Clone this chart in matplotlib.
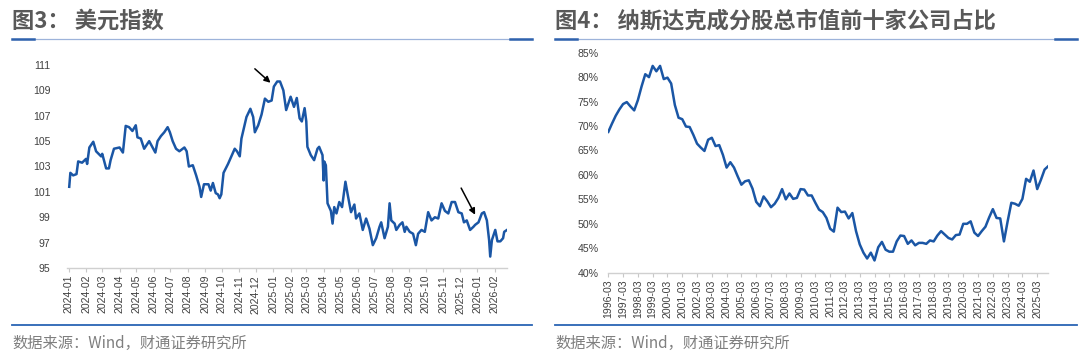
import matplotlib
matplotlib.use('Agg')
from matplotlib import pyplot as plt
from matplotlib.lines import Line2D
import pandas as pd
import numpy as np

plt.rcParams['font.family'] = ['Liberation Sans', 'Noto Sans CJK SC', 'DejaVu Sans']

# 图3 美元指数 (daily)
dxy_dates = [
    '2024-01-02', '2024-01-04', '2024-01-09', '2024-01-15', '2024-01-18', '2024-01-25',
    '2024-02-01', '2024-02-03', '2024-02-07', '2024-02-14', '2024-02-19', '2024-02-28',
    '2024-03-01', '2024-03-08', '2024-03-13', '2024-03-16', '2024-03-22', '2024-04-01',
    '2024-04-07', '2024-04-12', '2024-04-18', '2024-04-24', '2024-04-30', '2024-05-03',
    '2024-05-09', '2024-05-15', '2024-05-24', '2024-05-30', '2024-06-04', '2024-06-08',
    '2024-06-14', '2024-06-20', '2024-06-26', '2024-06-30', '2024-07-05', '2024-07-11',
    '2024-07-17', '2024-07-26', '2024-07-30', '2024-08-03', '2024-08-10', '2024-08-16',
    '2024-08-22', '2024-08-25', '2024-08-30', '2024-09-07', '2024-09-11', '2024-09-15',
    '2024-09-20', '2024-09-24', '2024-09-27', '2024-09-30', '2024-10-04', '2024-10-12',
    '2024-10-18', '2024-10-24', '2024-10-28', '2024-11-02', '2024-11-05', '2024-11-14',
    '2024-11-21', '2024-11-26', '2024-11-29', '2024-12-05', '2024-12-11', '2024-12-17',
    '2024-12-23', '2024-12-29', '2025-01-02', '2025-01-08', '2025-01-13', '2025-01-19',
    '2025-01-24', '2025-02-01', '2025-02-07', '2025-02-12', '2025-02-17', '2025-02-21',
    '2025-02-26', '2025-03-01', '2025-03-03', '2025-03-09', '2025-03-15', '2025-03-21',
    '2025-03-24', '2025-03-30', '2025-04-01', '2025-04-02', '2025-04-05', '2025-04-08',
    '2025-04-11', '2025-04-14', '2025-04-17', '2025-04-20', '2025-04-24', '2025-04-29',
    '2025-05-04', '2025-05-10', '2025-05-14', '2025-05-20', '2025-05-26', '2025-05-29',
    '2025-06-04', '2025-06-10', '2025-06-16', '2025-06-22', '2025-06-28', '2025-07-04',
    '2025-07-10', '2025-07-13', '2025-07-19', '2025-07-25', '2025-07-28', '2025-07-31',
    '2025-08-06', '2025-08-09', '2025-08-15', '2025-08-20', '2025-08-24', '2025-08-27',
    '2025-09-02', '2025-09-08', '2025-09-13', '2025-09-17', '2025-09-23', '2025-09-29',
    '2025-10-05', '2025-10-11', '2025-10-17', '2025-10-23', '2025-10-29', '2025-11-04',
    '2025-11-10', '2025-11-16', '2025-11-22', '2025-11-28', '2025-12-04', '2025-12-08',
    '2025-12-13', '2025-12-19', '2025-12-25', '2025-12-28', '2026-01-03', '2026-01-09',
    '2026-01-13', '2026-01-18', '2026-01-22', '2026-01-24', '2026-01-27', '2026-02-02',
    '2026-02-06', '2026-02-11', '2026-02-16', '2026-02-18', '2026-02-23',
]
dxy_values = [
    101.4, 102.5, 102.3, 102.4, 103.4, 103.3,
    103.6, 103.2, 104.5, 104.95, 104.2, 103.8,
    104.0, 102.85, 102.85, 103.5, 104.4, 104.5,
    104.1, 106.2, 106.1, 105.8, 106.25, 105.3,
    105.2, 104.4, 105.0, 104.5, 104.1, 105.0,
    105.4, 105.7, 106.1, 105.7, 105.0, 104.4,
    104.2, 104.5, 104.2, 103.0, 103.1, 102.3,
    101.4, 100.6, 101.6, 101.6, 101.1, 101.7,
    100.9, 100.8, 100.5, 100.8, 102.5, 103.2,
    103.8, 104.4, 104.2, 103.8, 105.2, 106.9,
    107.55, 106.9, 105.7, 106.25, 107.1, 108.35,
    108.1, 108.2, 109.3, 109.7, 109.7, 109.0,
    107.45, 108.5, 107.7, 108.4, 106.8, 106.55,
    107.6, 106.55, 104.55, 103.9, 103.5, 104.4,
    104.55, 103.9, 101.9, 103.4, 103.1, 100.1,
    99.8, 99.5, 98.5, 99.8, 99.3, 100.2,
    99.8, 101.8, 100.8, 99.4, 100.0, 98.9,
    99.3, 98.0, 98.9, 98.1, 96.8, 97.35,
    98.25, 98.6, 97.35, 98.25, 100.1, 98.75,
    98.5, 98.0, 98.4, 98.6, 97.85, 98.25,
    97.85, 97.7, 96.8, 97.7, 98.0, 97.85,
    99.4, 98.75, 99.0, 98.9, 100.1, 99.5,
    99.3, 100.2, 100.2, 99.4, 99.3, 98.6,
    98.75, 98.0, 98.25, 98.4, 98.6, 99.3,
    99.4, 98.75, 97.2, 95.9, 97.2, 98.0,
    97.1, 97.1, 97.35, 97.85, 98.0,
]
dxy_ticks = pd.date_range('2024-01-01', '2026-02-01', freq='MS')
arrows_dxy = [(('2024-11-29', 110.7), ('2024-12-27', 109.6)),
              (('2025-12-03', 101.3), ('2025-12-28', 99.2))]

# 图4 纳斯达克成分股总市值前十家公司占比 (quarterly, %)
nq_quarters = [f'{y}-{m:02d}' for y in range(1996, 2026) for m in (3, 6, 9, 12)]
nq_share = [
    68.8, 70.5, 72.1, 73.4, 74.5, 74.9, 74.0, 73.2, 75.3, 78.1,
    80.6, 80.0, 82.3, 81.2, 82.3, 79.6, 79.9, 78.7, 74.3, 71.7,
    71.4, 69.9, 69.8, 68.2, 66.4, 65.6, 64.9, 67.2, 67.6, 65.9,
    66.1, 64.1, 61.5, 62.6, 61.5, 59.7, 58.0, 58.7, 58.9, 57.2,
    54.5, 53.6, 55.6, 54.6, 53.4, 54.1, 55.3, 57.1, 55.0, 56.2,
    55.1, 55.3, 57.1, 57.0, 55.8, 55.8, 54.3, 52.9, 52.4, 51.2,
    49.0, 48.4, 53.3, 52.4, 52.5, 51.1, 52.2, 48.5, 45.8, 44.1,
    42.9, 44.1, 42.5, 45.2, 46.3, 44.7, 44.3, 44.3, 46.4, 47.6,
    47.5, 45.9, 46.6, 45.6, 46.1, 46.1, 45.9, 46.6, 46.4, 47.6,
    48.5, 47.8, 47.1, 46.8, 47.7, 47.8, 50.0, 50.0, 50.5, 48.2,
    47.5, 48.5, 49.4, 51.3, 53.0, 51.2, 51.1, 46.4, 50.5, 54.3,
    54.1, 53.7, 55.1, 59.2, 58.6, 60.9, 57.1, 59.0, 61.1, 61.8,
]

LINE_BLUE = '#1a56a5'
TXT = '#404040'
W, H = 1080, 352


def style_axis(ax):
    for s in ['top', 'right', 'left']:
        ax.spines[s].set_visible(False)
    ax.spines['bottom'].set_color('#d0d0d0')
    ax.spines['bottom'].set_linewidth(1.0)
    ax.tick_params(axis='x', direction='out', length=3, width=0.8, color='#c8c8c8',
                   labelcolor=TXT, labelsize=7.6, rotation=90, pad=2)
    ax.tick_params(axis='y', length=0, labelcolor=TXT, labelsize=7.6)


def panel_frame(fig, x0, x1, title):
    # title, underline with dark ends, bottom rule, source note
    fig.text(x0 / W, 1 - 21 / H, title, fontsize=16, color='#595959', weight='bold',
             family=['Noto Sans CJK SC', 'DejaVu Sans'], ha='left', va='center')
    yt = 1 - 38.7 / H
    fig.add_artist(Line2D([x0 / W, x1 / W], [yt, yt], color='#9db3da', lw=0.9))
    fig.add_artist(Line2D([x0 / W, (x0 + 22) / W], [yt, yt], color='#2f62ad', lw=1.8))
    fig.add_artist(Line2D([(x1 - 22) / W, x1 / W], [yt, yt], color='#2f62ad', lw=1.8))
    yb = 1 - 324.7 / H
    fig.add_artist(Line2D([x0 / W, x1 / W], [yb, yb], color='#2a64b4', lw=1.3))
    fig.text(x0 / W, 1 - 343.5 / H, '数据来源：Wind，财通证券研究所', fontsize=11,
             color='#7f7f7f', family=['Noto Sans CJK SC', 'DejaVu Sans'],
             ha='left', va='center')


fig = plt.figure(figsize=(W / 100, H / 100), dpi=100)

# left panel
ax1 = fig.add_axes([67 / W, (H - 268) / H, 440 / W, 203 / H])
d = pd.to_datetime(dxy_dates)
ax1.plot(d, dxy_values, color=LINE_BLUE, lw=1.8, solid_joinstyle='round')
ax1.set_ylim(95, 111)
ax1.set_yticks(np.arange(95, 112, 2))
ax1.set_xlim(pd.Timestamp('2023-12-29'), d[-1])
ax1.set_xticks(dxy_ticks)
ax1.set_xticklabels([t.strftime('%Y-%m') for t in dxy_ticks])
style_axis(ax1)
ax1.tick_params(axis='y', pad=12)
for tail, head in arrows_dxy:
    ax1.annotate('', xy=(pd.Timestamp(head[0]), head[1]),
                 xytext=(pd.Timestamp(tail[0]), tail[1]),
                 arrowprops=dict(arrowstyle='-|>', color='black', lw=1.1,
                                 mutation_scale=9, shrinkA=0, shrinkB=0))

# right panel
ax2 = fig.add_axes([608.3 / W, (H - 272.7) / H, 440 / W, 220 / H])
xq = np.arange(len(nq_share))
ax2.plot(xq, nq_share, color=LINE_BLUE, lw=1.8, solid_joinstyle='round')
ax2.set_ylim(40, 85)
ax2.set_yticks(np.arange(40, 86, 5))
ax2.set_yticklabels([f'{v}%' for v in range(40, 86, 5)])
ax2.set_xlim(0, len(nq_share) - 1)
idx = [i for i, q in enumerate(nq_quarters) if q.endswith('-03')]
ax2.set_xticks(idx)
ax2.set_xticklabels([nq_quarters[i] for i in idx])
style_axis(ax2)
ax2.tick_params(axis='y', pad=7)

panel_frame(fig, 12, 532, '图3： 美元指数')
panel_frame(fig, 555, 1077, '图4： 纳斯达克成分股总市值前十家公司占比')

fig.savefig('out.png', dpi=100)
